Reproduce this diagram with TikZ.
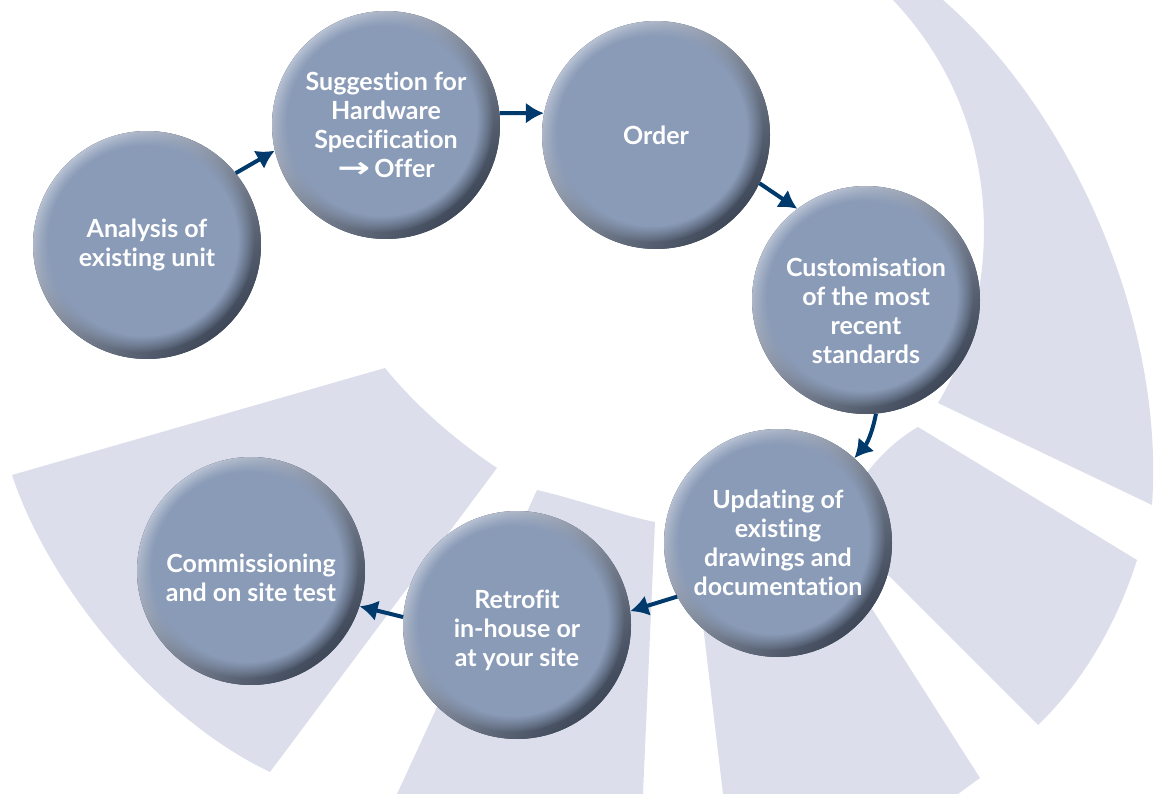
\documentclass[tikz,border=0pt]{standalone}
\usepackage{fontspec}
\usepackage{graphicx}
\setmainfont{Lato}[Ligatures=NoCommon]
\newfontfamily\arrowfont{DejaVu Sans}
\usetikzlibrary{arrows.meta,fadings,calc}

\definecolor{stepbase}{HTML}{8A9BB8}
\definecolor{stepdark}{HTML}{3E4859}
\definecolor{steplight}{HTML}{C3CCDB}
\definecolor{sectorfill}{HTML}{DCDFEB}
\definecolor{arrownavy}{HTML}{003A6C}

\tikzset{
  stepnode/.style={circle, minimum size=228pt, inner sep=0pt, fill=stepdark,
    text=white, align=center, font=\fontsize{25}{29}\selectfont\bfseries,
    path picture={
      \shade[top color=steplight, bottom color=stepdark, shading angle=45]
        (path picture bounding box.center) circle (114pt);
      \fill[stepbase, path fading=circle with fuzzy edge 15 percent]
        ($(path picture bounding box.center)+(-4pt,4pt)$) circle (111pt);
    }},
  textdown/.style={text height=#1},
  flow/.style={arrownavy, line width=4pt, -{Latex[length=18pt,width=21pt]}},
  sector/.style={fill=sectorfill}
}

\begin{document}
\begin{tikzpicture}[x=1pt, y=-1pt]
  \useasboundingbox (0,0) rectangle (1162,794);
  \fill[sector] (893,0) -- (943,0) .. controls (1070,110) and (1165,320) .. (1152,505)
    -- (938,403) .. controls (1000,300) and (1012,126) .. (893,0) -- cycle;
  \fill[sector] (918,427) -- (1137,560) .. controls (1118,620) and (1085,680) .. (1038,725)
    -- (873,560) -- (840,520) .. controls (860,470) and (895,440) .. (918,427) -- cycle;
  \fill[sector] (700,600) -- (723,794) -- (958,794) -- (980,778) -- (860,590) -- cycle;
  \fill[sector] (537,490) .. controls (580,500) and (620,515) .. (655,522)
    -- (643,794) -- (397,794) -- cycle;
  \fill[sector] (12,475) -- (385,368) .. controls (415,405) and (455,440) .. (497,468)
    -- (270,772) .. controls (160,720) and (50,590) .. (12,475) -- cycle;

  \node[stepnode] (analysis) at (147,245) {Analysis of\\existing unit};
  \node[stepnode] (suggestion) at (386,125) {Suggestion for\\Hardware\\Specification\\{\arrowfont\bfseries\fontsize{28}{29}\selectfont\scalebox{1.4}[1]{→}}\,Offer};
  \node[stepnode] (order) at (656,135) {Order};
  \node[stepnode, textdown=127pt] (custom) at (866,300) {Customisation\\of the most\\recent\\standards};
  \node[stepnode] (updating) at (778,543) {Updating of\\existing\\drawings and\\documentation};
  \node[stepnode, textdown=88pt] (retrofit) at (517,625) {Retrofit\\in-house or\\at your site};
  \node[stepnode, textdown=61pt] (commission) at (251,571) {Commissioning\\and on site test};

  \draw[flow] (analysis.39) -- (suggestion.193);
  \draw[flow] (suggestion.6) -- (order.169);
  \draw[flow] (order.-25) -- (custom.127);
  \draw[flow] (custom.-85) to[bend left=15] (updating.48);
  \draw[flow] (updating.208) -- (retrofit.7);
  \draw[flow] (retrofit.176) -- (commission.-18);
\end{tikzpicture}
\end{document}
